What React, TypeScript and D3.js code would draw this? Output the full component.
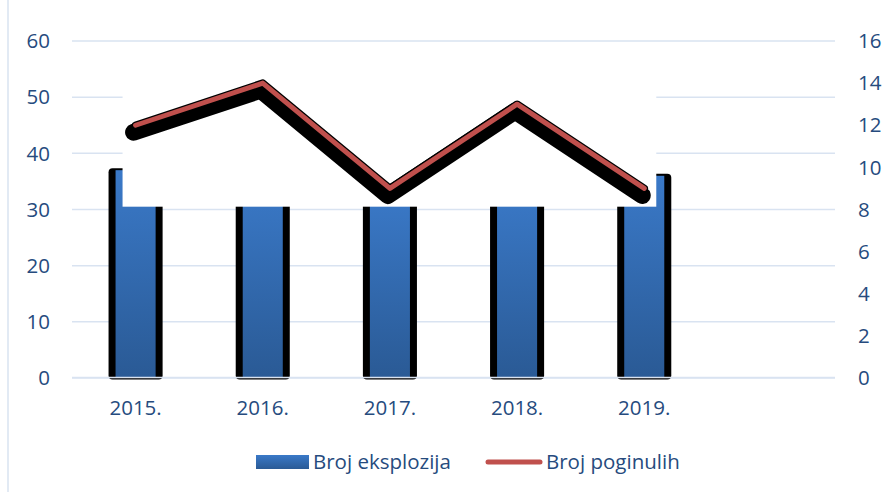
import * as d3 from 'd3';

// categories (last slot is an empty category, as in the source chart)
const categories = ['2015.', '2016.', '2017.', '2018.', '2019.', ''];
const explosions = [37, 35, 33, 34, 36, null];
const deaths = [12, 14, 9, 13, 9, null];
const leftTicks = [0, 10, 20, 30, 40, 50, 60];
const rightTicks = [0, 2, 4, 6, 8, 10, 12, 14, 16];

const W = 886;
const H = 492;
const textColor = '#264b7e';
const gridColor = '#d9e3f1';
const font = '"Open Sans", sans-serif';

export default function App() {
  const x = d3.scaleBand<string>()
    .domain(categories.map((c, i) => c || `_${i}`))
    .range([72, 835])
    .paddingInner(0.685)
    .paddingOuter(0.3425);
  const key = (i: number) => categories[i] || `_${i}`;
  const bw = x.bandwidth();

  const yL = d3.scaleLinear().domain([0, 60]).range([378, 41]);
  const yR = d3.scaleLinear().domain([0, 16]).range([378, 41]);

  const pts: [number, number][] = [];
  deaths.forEach((d, i) => {
    if (d != null) pts.push([x(key(i))! + bw / 2, yR(d)]);
  });
  const line = d3.line();
  const linePath = line(pts) || '';

  // white patch that hides the upper part of the middle bars in the source picture
  const maskX0 = x(key(0))! + 7;
  const maskX1 = x(key(4))! + bw - 8;
  const maskY0 = yL(60) + 10;
  const maskY1 = yL(30.5);

  return (
    <svg width={W} height={H} style={{ position: 'absolute', left: 0, top: 0, background: '#fff' }}>
      <defs>
        <linearGradient id="barGrad" x1="0" y1="0" x2="0" y2="1">
          <stop offset="0" stopColor="#3a79c8" />
          <stop offset="1" stopColor="#2a5a95" />
        </linearGradient>
      </defs>

      <line x1={8} x2={8} y1={0} y2={H} stroke={gridColor} strokeWidth={1.5} />

      {leftTicks.map(t => (
        <line key={t} x1={72} x2={835} y1={yL(t)} y2={yL(t)} stroke={gridColor} strokeWidth={1.5} />
      ))}

      {explosions.map((v, i) => v == null ? null : (
        <g key={i}>
          <rect x={x(key(i))! - 7} y={yL(v) - 2} width={bw + 14} height={yL(0) - yL(v) + 3.5}
            rx={4} fill="#000" />
          <rect x={x(key(i))!} y={yL(v)} width={bw} height={yL(0) - yL(v)} fill="url(#barGrad)" />
        </g>
      ))}

      <line x1={72} x2={835} y1={yL(0) - 0.5} y2={yL(0) - 0.5} stroke={gridColor} strokeWidth={1.5} />

      <rect x={maskX0} y={maskY0} width={maskX1 - maskX0} height={maskY1 - maskY0} fill="#fff" />

      <g fill="none" strokeLinecap="round" strokeLinejoin="round">
        <path d={linePath} transform="translate(-2,7)" stroke="#000" strokeWidth={17} />
        <path d={linePath} stroke="#000" strokeWidth={7.5} />
        <path d={linePath} stroke="#c0504d" strokeWidth={5} />
      </g>

      <g fontFamily={font} fontSize={20.5} fill={textColor}>
        {leftTicks.map(t => (
          <text key={t} x={50} y={yL(t)} dy="0.35em" textAnchor="end">{t}</text>
        ))}
        {rightTicks.map(t => (
          <text key={t} x={858} y={yR(t)} dy="0.35em">{t}</text>
        ))}
        {categories.map((c, i) => c ? (
          <text key={c} x={x(key(i))! + bw / 2} y={415} textAnchor="middle">{c}</text>
        ) : null)}

        <rect x={256} y={455} width={53} height={14} fill="url(#barGrad)" />
        <text x={313} y={469}>Broj eksplozija</text>
        <line x1={488} x2={540} y1={462} y2={462} stroke="#c0504d" strokeWidth={5} strokeLinecap="round" />
        <text x={546} y={469}>Broj poginulih</text>
      </g>
    </svg>
  );
}
